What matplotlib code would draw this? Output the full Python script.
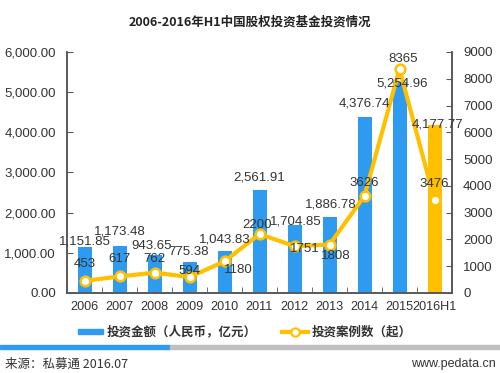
import matplotlib
matplotlib.use("Agg")
import matplotlib.pyplot as plt
import numpy as np
from matplotlib.patches import Rectangle
from matplotlib.lines import Line2D

plt.rcParams['font.family'] = ['Liberation Sans', 'Noto Sans CJK SC', 'DejaVu Sans']

categories = ['2006', '2007', '2008', '2009', '2010', '2011', '2012', '2013', '2014', '2015', '2016H1']
amount = [1151.85, 1173.48, 943.65, 775.38, 1043.83, 2561.91, 1704.85, 1886.78, 4376.74, 5254.96, 4177.77]
cases = [453, 617, 762, 594, 1180, 2200, 1751, 1808, 3626, 8365, 3476]
amount_labels = ['1,151.85', '1,173.48', '943.65', '775.38', '1,043.83', '2,561.91', '1,704.85',
                 '1,886.78', '4,376.74', '5,254.96', '4,177.77']
left_ticks = [0, 1000, 2000, 3000, 4000, 5000, 6000]
right_ticks = [0, 1000, 2000, 3000, 4000, 5000, 6000, 7000, 8000, 9000]

# label offsets in pixels (style only)
bar_off = [(0, 5), (0, 14), (-3, 9), (-1, 10), (0, 12), (0, 13), (1, 3), (1, 13), (0, 14), (3, -2), (3, 1)]
line_off = [(0, 17), (0, 17), (0, 14), (0, 6), (14, -9), (-2, 9), (10, -3), (6, -11), (0, 13), (4, 10), (0, 16)]

BLUE = '#2E9BF0'
GOLD = '#FFC000'
TXT = '#333333'
SP = '#595959'

fig = plt.figure(figsize=(5.0, 3.73), dpi=100)
ax = fig.add_axes([0.134, 0.2145, 0.770, 0.6461])
ax2 = ax.twinx()

x = np.arange(len(categories))
colors = [BLUE] * (len(categories) - 1) + [GOLD]
ax.bar(x, amount, width=0.4, color=colors, zorder=2)
ax.set_xlim(-0.5, len(categories) - 0.5)
ax.set_ylim(0, 6000)
ax.set_yticks(left_ticks)
ax.set_yticklabels(['{:,.2f}'.format(v) for v in left_ticks], fontsize=9.5, color=TXT)
ax.set_xticks(x)
ax.set_xticklabels(categories, fontsize=9.1, color=TXT)
ax.set_xticks(np.arange(-0.5, len(categories), 1.0), minor=True)
ax.tick_params(axis='x', which='major', length=0, pad=6)
ax.tick_params(axis='x', which='minor', direction='in', length=4, color=SP)
ax.tick_params(axis='y', direction='in', length=4, color=SP, pad=8)

ax2.set_ylim(0, 9000)
ax2.set_yticks(right_ticks)
ax2.set_yticklabels([str(v) for v in right_ticks], fontsize=9.5, color=TXT)
ax2.tick_params(axis='y', direction='in', length=4, color=SP, pad=8)

for a in (ax, ax2):
    a.spines['top'].set_visible(False)
    for s in ('left', 'right', 'bottom'):
        a.spines[s].set_color(SP)
        a.spines[s].set_linewidth(1.2)

ax2.plot(x, cases, color=GOLD, lw=3, marker='o', markersize=7, markerfacecolor='white',
         markeredgecolor=GOLD, markeredgewidth=1.8, zorder=3)

for i in range(len(categories)):
    ax2.annotate(amount_labels[i], xy=(x[i], amount[i] * 1.5), xytext=bar_off[i],
                 textcoords='offset pixels', ha='center', va='center', fontsize=9.5, color=TXT, zorder=5)
    ax2.annotate(str(cases[i]), xy=(x[i], cases[i]), xytext=line_off[i],
                 textcoords='offset pixels', ha='center', va='center', fontsize=9.5, color=TXT, zorder=5)

fig.text(0.5, 1 - 22 / 373, '2006-2016年H1中国股权投资基金投资情况', ha='center', va='center',
         fontsize=9, fontweight='bold', family=['Noto Sans CJK SC', 'DejaVu Sans'], color='#222222')

# legend
fig.patches.append(Rectangle((78 / 500, 1 - 334 / 373), 25 / 500, 5 / 373, transform=fig.transFigure,
                             color=BLUE))
fig.text(107 / 500, 1 - 332 / 373, '投资金额（人民币，亿元）', ha='left', va='center', fontsize=9,
         fontweight='bold', family=['Noto Sans CJK SC', 'DejaVu Sans'], color=TXT)
fig.lines.append(Line2D([282 / 500, 308 / 500], [1 - 332 / 373] * 2, transform=fig.transFigure,
                        color=GOLD, lw=3))
fig.lines.append(Line2D([295 / 500], [1 - 332 / 373], transform=fig.transFigure, marker='o',
                        markersize=6, markerfacecolor='white', markeredgecolor=GOLD, markeredgewidth=1.5))
fig.text(312 / 500, 1 - 332 / 373, '投资案例数（起）', ha='left', va='center', fontsize=9,
         fontweight='bold', family=['Noto Sans CJK SC', 'DejaVu Sans'], color=TXT)

# separator
fig.patches.append(Rectangle((0, 1 - 349 / 373), 170 / 500, 4 / 373, transform=fig.transFigure,
                             color=BLUE))
fig.patches.append(Rectangle((170 / 500, 1 - 349 / 373), 330 / 500, 4 / 373, transform=fig.transFigure,
                             color='#BFBFBF'))

fig.text(5 / 500, 1 - 364 / 373, '来源：私募通 2016.07', ha='left', va='center', fontsize=9,
         family=['Noto Sans CJK SC', 'DejaVu Sans'], color=TXT)
fig.text(496 / 500, 1 - 364 / 373, 'www.pedata.cn', ha='right', va='center', fontsize=9, color=TXT)

fig.savefig('out.png', dpi=100)
